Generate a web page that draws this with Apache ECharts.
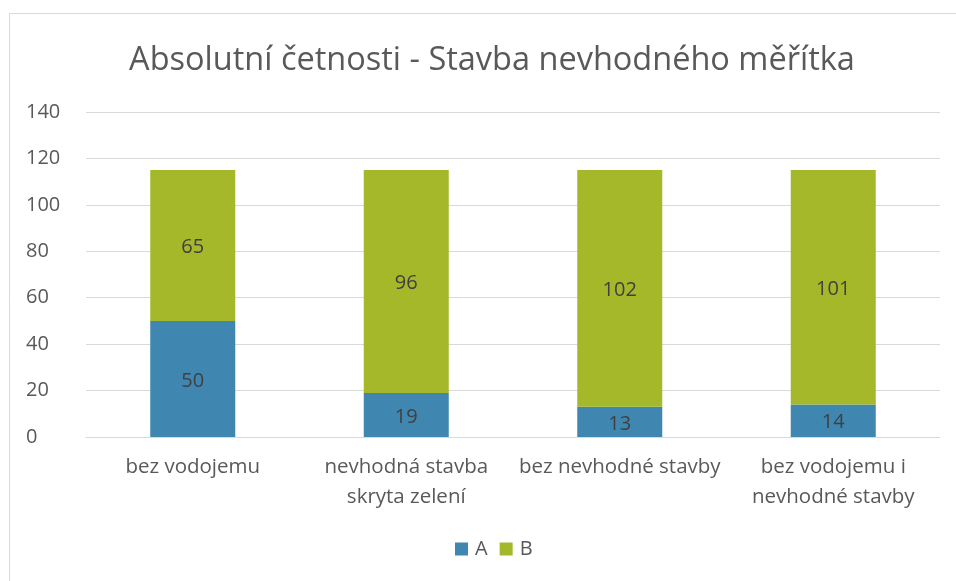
<!DOCTYPE html>
<html><head><meta charset="utf-8">
<script src="https://cdn.jsdelivr.net/npm/echarts@6/dist/echarts.min.js"></script>
<style>html,body{margin:0;padding:0;background:#fff}#c{width:956px;height:581px}</style>
</head><body><div id="c"></div>
<script>
const categories = ['bez vodojemu', 'nevhodná stavba\nskryta zelení', 'bez nevhodné stavby', 'bez vodojemu i\nnevhodné stavby'];
const seriesA = [50, 19, 13, 14];
const seriesB = [65, 96, 102, 101];
const chart = echarts.init(document.getElementById('c'));
const font = 'Open Sans';
chart.setOption({
  animation: false,
  textStyle: {fontFamily: font},
  title: {text: 'Absolutní četnosti - Stavba nevhodného měřítka', left: 487, textAlign: 'center', top: 39,
    textStyle: {fontFamily: font, fontSize: 32.5, fontWeight: 'normal', color: '#595959'}},
  graphic: [{type: 'rect', shape: {x: 9.5, y: 13.5, width: 1200, height: 1200}, style: {fill: 'none', stroke: '#d9d9d9', lineWidth: 1}}],
  grid: {left: 86, right: 16, top: 112, bottom: 144},
  legend: {bottom: 17, left: 450, itemWidth: 13, itemHeight: 13, itemGap: 12, icon: 'rect',
    textStyle: {fontFamily: font, fontSize: 20, color: '#595959', padding: [0, 0, 0, 2]}},
  xAxis: {type: 'category', data: categories,
    axisLine: {lineStyle: {color: '#d9d9d9', width: 1}}, axisTick: {show: false},
    axisLabel: {fontFamily: font, fontSize: 20.5, color: '#595959', lineHeight: 30, margin: 15, interval: 0}},
  yAxis: {type: 'value', min: 0, max: 140, interval: 20,
    axisLine: {show: false}, axisTick: {show: false},
    splitLine: {lineStyle: {color: '#d9d9d9', width: 1}},
    axisLabel: {fontFamily: font, fontSize: 20, color: '#595959', margin: 60, align: 'left'}},
  series: [
    {name: 'A', type: 'bar', stack: 's', data: seriesA, barWidth: 85, itemStyle: {color: '#3f87b1'},
      label: {show: true, position: 'inside', offset: [0, 2], fontFamily: font, fontSize: 20, color: '#404040'}},
    {name: 'B', type: 'bar', stack: 's', data: seriesB, barWidth: 85, itemStyle: {color: '#a5b82a'},
      label: {show: true, position: 'inside', offset: [0, 2], fontFamily: font, fontSize: 20, color: '#404040'}}
  ]
});
</script></body></html>
